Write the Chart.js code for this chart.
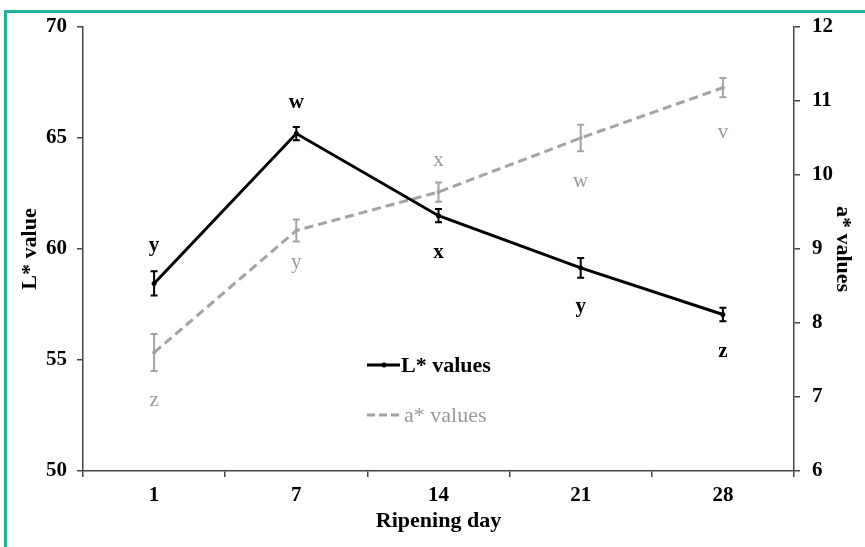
<!DOCTYPE html>
<html>
<head>
<meta charset="utf-8">
<script src="https://cdn.jsdelivr.net/npm/chart.js@4.4.0/dist/chart.umd.min.js"></script>
<style>
  html, body { margin: 0; padding: 0; background: #fff; }
  #wrap { position: relative; width: 865px; height: 547px; overflow: hidden; }
  #frame { position: absolute; left: 4px; top: 10px; width: 900px; height: 600px;
           border: 3px solid #1fb39b; box-sizing: border-box; pointer-events: none; }
  canvas { position: absolute; left: 0; top: 0; }
</style>
</head>
<body>
<div id="wrap">
  <canvas id="chart" width="865" height="547"></canvas>
  <div id="frame"></div>
</div>
<script>
// --- datos ---
const days = ['1', '7', '14', '21', '28'];
const lValues = [58.45, 65.2, 61.5, 59.15, 57.05];
const lErrors = [0.55, 0.3, 0.3, 0.45, 0.3];
const aValues = [7.6, 9.25, 9.77, 10.5, 11.18];
const aErrors = [0.25, 0.15, 0.13, 0.18, 0.13];
const lLetters = ['y', 'w', 'x', 'y', 'z'];
const aLetters = ['z', 'y', 'x', 'w', 'v'];
const lTicks = [50, 55, 60, 65, 70];
const aTicks = [6, 7, 8, 9, 10, 11, 12];

const SERIF = '"Liberation Serif", "Times New Roman", serif';
const BLACK = '#000000';
const GREY = '#a3a3a3';

// desplazamiento vertical (px) de cada letra respecto a su punto
const lLetterOffset = [-38, -31, 37, 39, 37];
const aLetterOffset = [48, 32, -32, 43, 45];

// barras de error
const errorBars = {
    id: 'errorBars',
    afterDatasetsDraw(chart) {
        const ctx = chart.ctx;
        chart.data.datasets.forEach((ds, i) => {
            const meta = chart.getDatasetMeta(i);
            const ys = chart.scales[ds.yAxisID];
            ctx.save();
            ctx.strokeStyle = ds.borderColor;
            ctx.lineWidth = 2;
            ctx.setLineDash([]);
            meta.data.forEach((pt, j) => {
                const top = ys.getPixelForValue(ds.data[j] + ds.errors[j]);
                const bot = ys.getPixelForValue(ds.data[j] - ds.errors[j]);
                ctx.beginPath();
                ctx.moveTo(pt.x, top); ctx.lineTo(pt.x, bot);
                ctx.moveTo(pt.x - 3.5, top); ctx.lineTo(pt.x + 3.5, top);
                ctx.moveTo(pt.x - 3.5, bot); ctx.lineTo(pt.x + 3.5, bot);
                ctx.stroke();
            });
            ctx.restore();
        });
    }
};

// letras de significancia
const letters = {
    id: 'letters',
    afterDatasetsDraw(chart) {
        const ctx = chart.ctx;
        chart.data.datasets.forEach((ds, i) => {
            const meta = chart.getDatasetMeta(i);
            ctx.save();
            ctx.fillStyle = ds.letterColor;
            ctx.font = ds.letterFont;
            ctx.textAlign = 'center';
            ctx.textBaseline = 'middle';
            meta.data.forEach((pt, j) => {
                ctx.fillText(ds.letters[j], pt.x, pt.y + ds.letterOffset[j]);
            });
            ctx.restore();
        });
    }
};

// leyenda dentro del área
const innerLegend = {
    id: 'innerLegend',
    afterDraw(chart) {
        const ctx = chart.ctx;
        ctx.save();
        ctx.textBaseline = 'middle';
        ctx.textAlign = 'left';
        // L*
        ctx.strokeStyle = BLACK; ctx.lineWidth = 3; ctx.setLineDash([]);
        ctx.beginPath(); ctx.moveTo(367, 365); ctx.lineTo(400, 365); ctx.stroke();
        ctx.fillStyle = BLACK;
        ctx.beginPath(); ctx.arc(384, 365, 2.5, 0, Math.PI * 2); ctx.fill();
        ctx.font = 'bold 22px ' + SERIF;
        ctx.fillText('L* values', 401, 366);
        // a*
        ctx.strokeStyle = GREY; ctx.setLineDash([8, 4]);
        ctx.beginPath(); ctx.moveTo(367, 415); ctx.lineTo(402, 415); ctx.stroke();
        ctx.fillStyle = '#999999';
        ctx.font = '22px ' + SERIF;
        ctx.fillText('a* values', 404, 416);
        ctx.restore();
    }
};

const tickFont = { family: SERIF, size: 21, weight: 'bold' };
const titleFont = { family: SERIF, size: 22, weight: 'bold' };

new Chart(document.getElementById('chart').getContext('2d'), {
    type: 'line',
    data: {
        labels: days,
        datasets: [
            {
                label: 'a* values', data: aValues, errors: aErrors, yAxisID: 'y1',
                borderColor: GREY, borderWidth: 3, borderDash: [9, 5],
                pointRadius: 2, pointBackgroundColor: GREY, pointBorderWidth: 0,
                letters: aLetters, letterOffset: aLetterOffset,
                letterColor: '#999999', letterFont: '21px ' + SERIF, order: 2
            },
            {
                label: 'L* values', data: lValues, errors: lErrors, yAxisID: 'y',
                borderColor: BLACK, borderWidth: 3,
                pointRadius: 2.5, pointBackgroundColor: BLACK, pointBorderWidth: 0,
                letters: lLetters, letterOffset: lLetterOffset,
                letterColor: BLACK, letterFont: 'bold 21px ' + SERIF, order: 1
            }
        ]
    },
    options: {
        responsive: false,
        animation: false,
        layout: { padding: { top: 27, left: 0, right: 0, bottom: 0 } },
        plugins: { legend: { display: false }, tooltip: { enabled: false } },
        scales: {
            x: {
                offset: true,
                grid: { offset: true, drawOnChartArea: false, color: '#444', tickLength: 6, lineWidth: 1.5 },
                border: { color: '#444', width: 1.5 },
                ticks: { color: BLACK, font: tickFont, padding: 6 },
                title: { display: true, text: 'Ripening day', color: BLACK, font: titleFont, padding: { top: 0, bottom: 12 } },
                afterFit: s => { s.height = 76; }
            },
            y: {
                position: 'left', min: 50, max: 70,
                afterBuildTicks: s => { s.ticks = lTicks.map(v => ({ value: v })); },
                grid: { drawOnChartArea: false, color: '#444', tickLength: 6, lineWidth: 1.5 },
                border: { color: '#444', width: 1.5 },
                ticks: { color: BLACK, font: tickFont, padding: 10 },
                title: { display: true, text: 'L* value', color: BLACK, font: titleFont, padding: { top: 17, bottom: 0 } },
                afterFit: s => { s.width = 83; }
            },
            y1: {
                position: 'right', min: 6, max: 12,
                afterBuildTicks: s => { s.ticks = aTicks.map(v => ({ value: v })); },
                grid: { drawOnChartArea: false, color: '#444', tickLength: 6, lineWidth: 1.5 },
                border: { color: '#444', width: 1.5 },
                ticks: { color: BLACK, font: tickFont, padding: 12 },
                title: { display: true, text: 'a* values', color: BLACK, font: titleFont, padding: { top: 9, bottom: 0 } },
                afterFit: s => { s.width = 71; }
            }
        }
    },
    plugins: [errorBars, letters, innerLegend]
});
</script>
</body>
</html>
